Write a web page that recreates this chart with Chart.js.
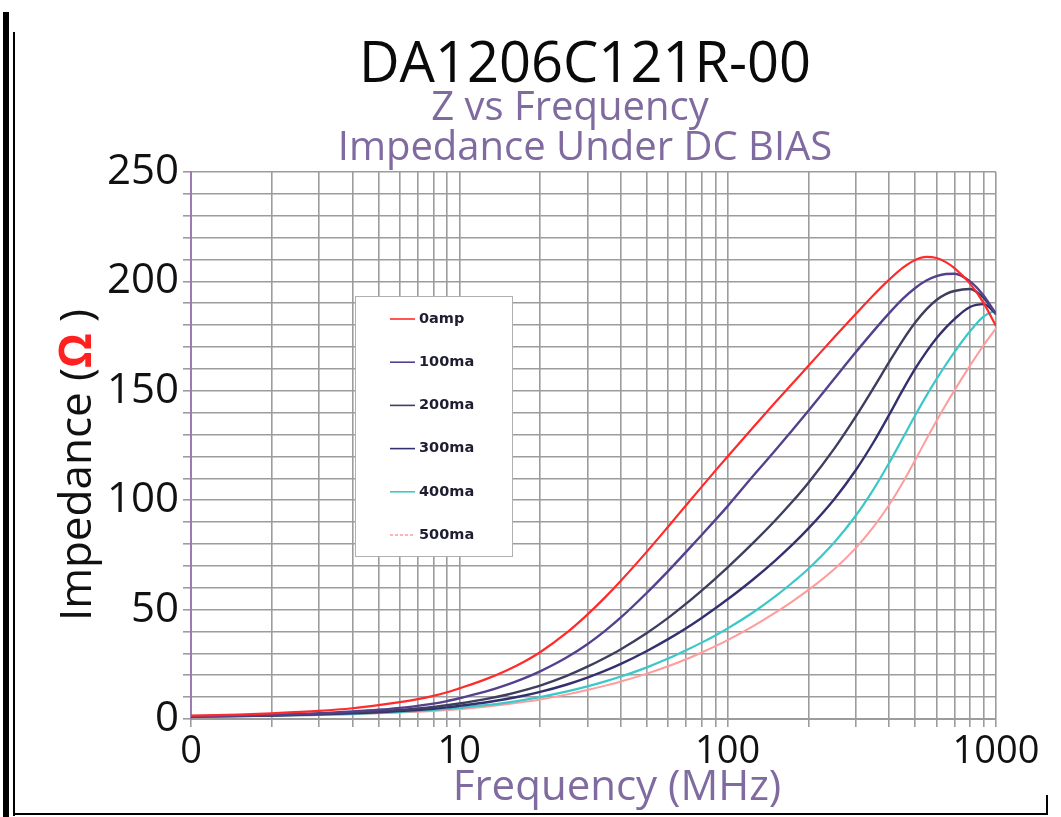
<!DOCTYPE html>
<html><head><meta charset="utf-8">
<script src="https://cdn.jsdelivr.net/npm/chart.js@4/dist/chart.umd.min.js"></script>
<style>
html,body{margin:0;padding:0;background:#fff;}
#wrap{position:relative;width:1061px;height:817px;overflow:hidden;background:#fff;}
canvas{position:absolute;left:0;top:0;}
.bar{position:absolute;background:#000;}
</style></head><body>
<div id="wrap">
<canvas id="c" width="1061" height="817"></canvas>
<div class="bar" style="left:3px;top:12px;width:6px;height:805px"></div>
<div class="bar" style="left:13px;top:32px;width:2px;height:784px"></div>
<div class="bar" style="left:13px;top:813px;width:1035px;height:2px"></div>
<div class="bar" style="left:1046px;top:795px;width:2px;height:20px"></div>
</div>
<script>
// ---- data ----
const chartTitle = 'DA1206C121R-00';
const subTitles = ['Z vs Frequency', 'Impedance Under DC BIAS'];
const xTitle = 'Frequency (MHz)';
const yTitleParts = ['Impedance (', 'Ω', ' )'];

const frequencies = [1, 1.5, 2, 3, 4, 5, 6, 7, 8, 9, 10, 12.5, 15, 17.5, 20, 25, 30, 35, 40, 50, 60, 70, 80, 90, 100, 125, 150, 175, 200, 250, 300, 350, 400, 450, 500, 550, 600, 650, 700, 800, 900, 1000];

const seriesLabels = ['0amp', '100ma', '200ma', '300ma', '400ma', '500ma'];
const z0amp  = [1.5, 2.0, 2.6, 3.7, 4.9, 6.3, 7.7, 9.1, 10.6, 12.2, 14, 18.1, 22.2, 26.3, 30.5, 39.2, 47.7, 55.7, 63.2, 76.5, 87.9, 97.7, 106.1, 113.5, 120.0, 133.6, 144.5, 153.6, 161.4, 174.6, 185.1, 193.8, 200.8, 206.3, 209.8, 211.2, 210.7, 208.8, 206.1, 199.0, 190.1, 179.6];
const z100ma = [1.3, 1.6, 1.9, 2.6, 3.4, 4.2, 5.1, 6.0, 7.0, 8.2, 9.5, 12.5, 15.6, 18.7, 21.8, 28.0, 34.2, 40.4, 46.4, 57.7, 67.6, 76.4, 84.1, 91.0, 97.3, 111.4, 122.6, 132.3, 140.9, 155.6, 167.6, 177.4, 185.5, 192.1, 197.0, 200.4, 202.4, 203.4, 203.5, 200.0, 193.5, 185.1];
const z200ma = [1.2, 1.45, 1.7, 2.3, 2.9, 3.5, 4.1, 4.8, 5.5, 6.3, 7.1, 9.1, 11.1, 13.2, 15.3, 19.6, 23.9, 28.0, 31.9, 39.3, 46.2, 52.7, 58.7, 64.2, 69.3, 80.7, 90.6, 99.6, 108.0, 123.7, 138.2, 151.4, 163.2, 173.2, 181.2, 187.2, 191.5, 194.2, 195.6, 196.5, 192.4, 185.1];
const z300ma = [1.1, 1.35, 1.6, 2.1, 2.6, 3.1, 3.6, 4.1, 4.65, 5.3, 6.0, 7.55, 9.13, 10.73, 12.36, 15.65, 18.93, 22.1, 25.2, 31.1, 36.5, 41.5, 46.2, 50.6, 54.7, 64.0, 72.3, 79.9, 87.1, 100.6, 113.7, 126.6, 139.1, 150.5, 160.1, 167.8, 174.0, 178.9, 182.8, 188.3, 189.6, 185.2];
const z400ma = [1.0, 1.25, 1.5, 1.9, 2.35, 2.8, 3.25, 3.7, 4.15, 4.6, 5.1, 6.3, 7.52, 8.77, 10.03, 12.5, 14.9, 17.2, 19.4, 23.6, 27.6, 31.4, 34.9, 38.2, 41.4, 48.9, 55.9, 62.5, 68.7, 80.8, 92.9, 105.1, 117.1, 128.5, 138.8, 147.7, 155.3, 161.9, 167.7, 177.2, 184.0, 186.8];
const z500ma = [1.0, 1.2, 1.4, 1.8, 2.2, 2.6, 3.0, 3.35, 3.7, 4.1, 4.5, 5.6, 6.72, 7.83, 8.94, 11.14, 13.25, 15.25, 17.15, 20.75, 24.1, 27.3, 30.4, 33.3, 36.1, 42.6, 48.5, 53.9, 59.0, 68.6, 78.1, 87.9, 97.9, 108.2, 118.4, 127.8, 136.2, 143.6, 150.2, 161.5, 170.9, 178.6];

const xGridValues = [1,2,3,4,5,6,7,8,9,10,20,30,40,50,60,70,80,90,100,200,300,400,500,600,700,800,900,1000];
const xTickValues = [1, 10, 100, 1000];
const xTickLabels = ['0', '10', '100', '1000'];
const yTickValues = [0, 50, 100, 150, 200, 250];

// ---- style ----
const seriesColors = ['#ff2a2a', '#55408e', '#3e3e5e', '#33306f', '#3cc8c8', '#ff9c9c'];
const seriesWidths = [2.2, 2.4, 2.4, 2.4, 2.2, 2];
const purple = '#7f6b9f';
const gridColor = '#9c9c9c';

const allSeries = [z0amp, z100ma, z200ma, z300ma, z400ma, z500ma];
const datasets = allSeries.map((vals, i) => ({
  label: seriesLabels[i],
  data: frequencies.map((f, j) => ({x: f, y: vals[j]})),
  borderColor: seriesColors[i],
  backgroundColor: seriesColors[i],
  borderWidth: seriesWidths[i],
  pointRadius: 0,
  fill: false,
  cubicInterpolationMode: 'monotone'
}));

const textPlugin = {
  id: 'texts',
  afterDraw(chart) {
    const ctx = chart.ctx;
    ctx.save();
    ctx.textAlign = 'center';
    ctx.textBaseline = 'alphabetic';
    ctx.fillStyle = '#0a0a0a';
    ctx.font = '56px "Open Sans"';
    ctx.fillText(chartTitle, 585, 82);
    ctx.fillStyle = purple;
    ctx.font = '40px "Open Sans"';
    ctx.fillText(subTitles[0], 570, 120);
    ctx.fillText(subTitles[1], 585, 160);
    ctx.font = '42px "Open Sans"';
    ctx.fillText(xTitle, 617, 800);
    // y title with red omega
    ctx.translate(91, 465);
    ctx.rotate(-Math.PI / 2);
    ctx.textAlign = 'left';
    const f0 = '44px "Open Sans"', f1 = 'bold 44px "Open Sans"';
    ctx.font = f0;
    const w0 = ctx.measureText(yTitleParts[0]).width;
    ctx.font = f1;
    const w1 = ctx.measureText(yTitleParts[1]).width;
    ctx.font = f0;
    const w2 = ctx.measureText(yTitleParts[2]).width;
    let x = -(w0 + w1 + w2) / 2;
    ctx.fillStyle = '#111';
    ctx.fillText(yTitleParts[0], x, 0);
    x += w0;
    ctx.font = f1;
    ctx.fillStyle = '#ff2020';
    ctx.fillText(yTitleParts[1], x, 0);
    x += w1;
    ctx.font = f0;
    ctx.fillStyle = '#111';
    ctx.fillText(yTitleParts[2], x, 0);
    ctx.restore();
  }
};

const legendPlugin = {
  id: 'boxLegend',
  afterDatasetsDraw(chart) {
    const ctx = chart.ctx;
    ctx.save();
    ctx.fillStyle = '#fff';
    ctx.fillRect(355, 296, 157, 260);
    ctx.strokeStyle = '#b0b0b0';
    ctx.lineWidth = 1;
    ctx.strokeRect(355.5, 296.5, 157, 260);
    ctx.font = 'bold 14.5px "DejaVu Sans"';
    ctx.textBaseline = 'middle';
    ctx.textAlign = 'left';
    chart.data.datasets.forEach((ds, i) => {
      const y = 319 + i * 43.2;
      ctx.strokeStyle = ds.borderColor;
      ctx.lineWidth = 1.6;
      ctx.setLineDash(i === 5 ? [3, 2] : []);
      ctx.beginPath();
      ctx.moveTo(390, y);
      ctx.lineTo(415, y);
      ctx.stroke();
      ctx.setLineDash([]);
      ctx.fillStyle = '#1e1e30';
      ctx.fillText(ds.label, 419, y);
    });
    ctx.restore();
  }
};

new Chart(document.getElementById('c'), {
  type: 'line',
  data: { datasets },
  options: {
    responsive: false,
    animation: false,
    devicePixelRatio: 1,
    layout: { padding: { left: 0, right: 65, top: 172, bottom: 0 } },
    plugins: { legend: { display: false }, title: { display: false }, tooltip: { enabled: false } },
    scales: {
      x: {
        type: 'logarithmic',
        min: 1, max: 1000,
        afterBuildTicks: s => { s.ticks = xGridValues.map(v => ({ value: v })); },
        afterFit: s => { s.height = 98; },
        ticks: {
          autoSkip: false, maxRotation: 0, minRotation: 0, padding: 2,
          font: { family: 'Open Sans', size: 38 }, color: '#111',
          callback: v => { const i = xTickValues.indexOf(v); return i >= 0 ? xTickLabels[i] : ''; }
        },
        grid: { color: gridColor, lineWidth: 1.6, tickLength: 8 },
        border: { color: gridColor, width: 2 }
      },
      y: {
        min: 0, max: 250,
        afterFit: s => { s.width = 191; },
        ticks: {
          stepSize: 10, autoSkip: false, padding: 4,
          font: { family: 'Open Sans', size: 42 }, color: '#111',
          callback: v => yTickValues.includes(v) ? String(v) : ''
        },
        grid: { color: gridColor, lineWidth: 1.6, tickLength: 8 },
        border: { color: '#9b7bb0', width: 2 }
      }
    }
  },
  plugins: [legendPlugin, textPlugin]
});
</script>
</body></html>
